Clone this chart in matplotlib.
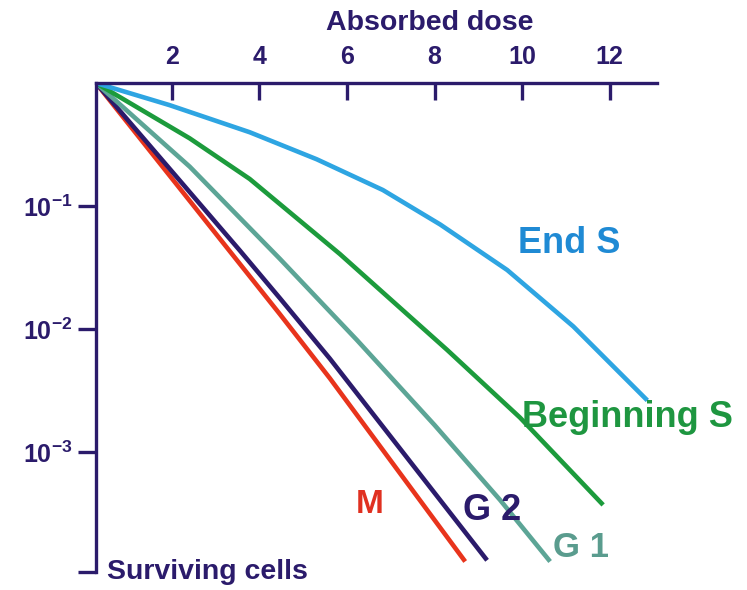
import matplotlib.pyplot as plt
from matplotlib.ticker import NullLocator

plt.rcParams['font.family'] = 'Liberation Sans'
plt.rcParams['font.weight'] = 'bold'
plt.rcParams['mathtext.fontset'] = 'custom'
plt.rcParams['mathtext.rm'] = 'Liberation Sans:bold'
plt.rcParams['mathtext.bf'] = 'Liberation Sans:bold'
plt.rcParams['mathtext.it'] = 'Liberation Sans:bold'

# survival curves (dose in Gy, surviving fraction)
m_dose = [0.27, 3.33, 4.47, 5.61, 8.70]
m_surv = [1.0, 0.0427, 0.0132, 0.00398, 0.000129]

g2_dose = [0.27, 3.55, 4.47, 5.61, 9.20]
g2_surv = [1.0, 0.0437, 0.0178, 0.00575, 0.000132]

g1_dose = [0.27, 2.41, 4.47, 6.23, 8.0, 9.5, 10.64]
g1_surv = [1.0, 0.209, 0.0372, 0.00813, 0.00166, 0.000407, 0.000129]

bs_dose = [0.27, 2.41, 3.78, 5.84, 8.29, 9.95, 11.85]
bs_surv = [1.0, 0.355, 0.166, 0.0407, 0.00676, 0.00191, 0.000372]

es_dose = [0.27, 1.95, 3.78, 5.31, 6.82, 8.13, 9.66, 11.17, 12.86]
es_surv = [1.0, 0.661, 0.398, 0.240, 0.135, 0.0708, 0.0302, 0.0105, 0.00263]

x_ticks = [2, 4, 6, 8, 10, 12]
y_ticks = [1e-1, 1e-2, 1e-3, 1.06e-4]
y_labels = ['$10^{-1}$', '$10^{-2}$', '$10^{-3}$', '']

navy = '#2B1B6B'
red = '#E8341C'
teal = '#5CA596'
green = '#1C9B3C'
blue = '#2EA5E2'

fig = plt.figure(figsize=(7.47, 5.90), dpi=100)
ax = fig.add_axes([0.1285, 0.0305, 0.751, 0.8288])
ax.set_yscale('log')
ax.set_xlim(0.27, 13.08)
ax.set_ylim(1.06e-4, 1)

lw = 3.3
ax.plot(m_dose, m_surv, color=red, lw=lw, solid_capstyle='butt')
ax.plot(g2_dose, g2_surv, color=navy, lw=lw, solid_capstyle='butt')
ax.plot(g1_dose, g1_surv, color=teal, lw=lw, solid_capstyle='butt')
ax.plot(bs_dose, bs_surv, color=green, lw=lw, solid_capstyle='butt')
ax.plot(es_dose, es_surv, color=blue, lw=lw, solid_capstyle='butt')

# axes: only top and left lines
for s in ['right', 'bottom']:
    ax.spines[s].set_visible(False)
for s in ['top', 'left']:
    ax.spines[s].set_color(navy)
    ax.spines[s].set_linewidth(2.4)

ax.xaxis.tick_top()
ax.set_xticks(x_ticks)
ax.set_xticklabels([str(t) for t in x_ticks])
ax.set_yticks(y_ticks)
ax.set_yticklabels(y_labels)
ax.yaxis.set_minor_locator(NullLocator())
ax.tick_params(axis='x', direction='in', length=12, width=2.4, colors=navy,
               labelsize=18, pad=10)
ax.tick_params(axis='y', direction='out', length=13, width=2.4, colors=navy,
               labelsize=18, pad=4)

fig.text(430 / 747, 1 - 30 / 590, 'Absorbed dose', ha='center', va='baseline',
         fontsize=20.5, color=navy)
ax.text(0.02, 0, 'Surviving cells', transform=ax.transAxes, ha='left',
        va='center', fontsize=20.5, color=navy, clip_on=False)

# curve labels
ax.text(9.91, 0.0415, 'End S', fontsize=26, color='#1F8AD4', va='baseline')
ax.text(10.0, 0.0016, 'Beginning S', fontsize=26, color='#1E9640', va='baseline')
ax.text(6.21, 3.19e-4, 'M', fontsize=24, color='#E03020', va='baseline')
ax.text(8.65, 2.8e-4, 'G 2', fontsize=26, color=navy, va='baseline')
ax.text(10.71, 1.4e-4, 'G 1', fontsize=25, color='#5A9C8E', va='baseline')

fig.savefig('out.png', dpi=100)
